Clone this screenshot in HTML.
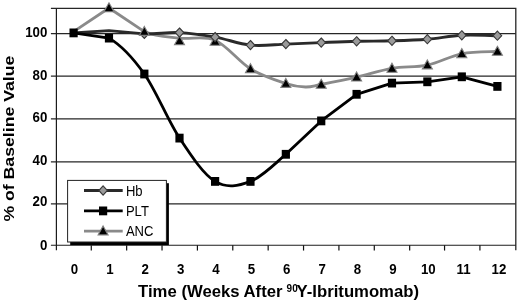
<!DOCTYPE html>
<html><head><meta charset="utf-8"><title>Chart</title>
<style>
html,body{margin:0;padding:0;background:#fff;}
svg{display:block;}
text{font-family:"Liberation Sans",Arial,sans-serif;fill:#000;}
.tk{font-size:14px;font-weight:bold;}
.ti{font-size:16.7px;font-weight:bold;}
.yt{font-size:14.5px;font-weight:bold;}
.sup{font-size:10px;font-weight:bold;}
.lg{font-size:14.5px;}
</style></head><body>
<svg width="520" height="303" viewBox="0 0 520 303">
<rect width="520" height="303" fill="#fff"/>
<line x1="50.9" y1="33.70" x2="515.8" y2="33.70" stroke="#262626" stroke-width="1.25"/>
<line x1="50.9" y1="76.20" x2="515.8" y2="76.20" stroke="#262626" stroke-width="1.25"/>
<line x1="50.9" y1="118.80" x2="515.8" y2="118.80" stroke="#262626" stroke-width="1.25"/>
<line x1="50.9" y1="161.90" x2="515.8" y2="161.90" stroke="#262626" stroke-width="1.25"/>
<line x1="50.9" y1="203.85" x2="515.8" y2="203.85" stroke="#262626" stroke-width="1.25"/>
<path d="M50.9 8.40 H515.8 V250.25" fill="none" stroke="#262626" stroke-width="1.3"/>
<line x1="56.4" y1="8.40" x2="56.4" y2="250.25" stroke="#1c1c1c" stroke-width="1.2"/>
<line x1="50.9" y1="245.25" x2="515.8" y2="245.25" stroke="#1c1c1c" stroke-width="1.15"/>
<line x1="91.28" y1="245.25" x2="91.28" y2="250.55" stroke="#111" stroke-width="1.2"/>
<line x1="126.65" y1="245.25" x2="126.65" y2="250.55" stroke="#111" stroke-width="1.2"/>
<line x1="162.03" y1="245.25" x2="162.03" y2="250.55" stroke="#111" stroke-width="1.2"/>
<line x1="197.41" y1="245.25" x2="197.41" y2="250.55" stroke="#111" stroke-width="1.2"/>
<line x1="232.78" y1="245.25" x2="232.78" y2="250.55" stroke="#111" stroke-width="1.2"/>
<line x1="268.16" y1="245.25" x2="268.16" y2="250.55" stroke="#111" stroke-width="1.2"/>
<line x1="303.54" y1="245.25" x2="303.54" y2="250.55" stroke="#111" stroke-width="1.2"/>
<line x1="338.92" y1="245.25" x2="338.92" y2="250.55" stroke="#111" stroke-width="1.2"/>
<line x1="374.29" y1="245.25" x2="374.29" y2="250.55" stroke="#111" stroke-width="1.2"/>
<line x1="409.67" y1="245.25" x2="409.67" y2="250.55" stroke="#111" stroke-width="1.2"/>
<line x1="444.55" y1="245.25" x2="444.55" y2="250.55" stroke="#111" stroke-width="1.2"/>
<line x1="479.92" y1="245.25" x2="479.92" y2="250.55" stroke="#111" stroke-width="1.2"/>
<path d="M73.59 31.60 L108.97 8.00 L144.34 31.60 C156.10 36.63 167.71 36.75 179.50 38.20 C191.29 39.65 203.27 35.18 215.10 40.30 C226.93 45.42 238.68 61.68 250.47 68.90 C262.27 76.12 276.67 80.58 285.85 83.60 C295.03 86.62 299.64 86.85 305.54 87.00 C311.43 87.15 312.72 86.13 321.23 84.50 C329.74 82.87 344.81 79.88 356.60 77.20 C368.40 74.52 380.19 70.42 391.98 68.40 C403.77 66.38 415.72 67.53 427.36 65.10 C438.99 62.67 450.13 56.07 461.80 53.80 C473.47 51.53 491.47 51.88 497.40 51.50" fill="none" stroke="#8a8a8a" stroke-width="2.8" stroke-linejoin="round"/>
<path d="M108.97 2.80 l5 9 h-10 z" fill="#000" stroke="#808080" stroke-width="1.1"/>
<path d="M179.50 35.80 l5 9 h-10 z" fill="#000" stroke="#808080" stroke-width="1.1"/>
<path d="M215.10 36.20 l5 9 h-10 z" fill="#000" stroke="#808080" stroke-width="1.1"/>
<path d="M250.47 63.70 l5 9 h-10 z" fill="#000" stroke="#808080" stroke-width="1.1"/>
<path d="M285.85 78.40 l5 9 h-10 z" fill="#000" stroke="#808080" stroke-width="1.1"/>
<path d="M321.23 79.30 l5 9 h-10 z" fill="#000" stroke="#808080" stroke-width="1.1"/>
<path d="M356.60 72.00 l5 9 h-10 z" fill="#000" stroke="#808080" stroke-width="1.1"/>
<path d="M391.98 63.20 l5 9 h-10 z" fill="#000" stroke="#808080" stroke-width="1.1"/>
<path d="M427.36 59.90 l5 9 h-10 z" fill="#000" stroke="#808080" stroke-width="1.1"/>
<path d="M461.80 48.60 l5 9 h-10 z" fill="#000" stroke="#808080" stroke-width="1.1"/>
<path d="M497.40 46.30 l5 9 h-10 z" fill="#000" stroke="#808080" stroke-width="1.1"/>
<path d="M73.59 33.00 L108.97 30.60 L144.34 33.90 C156.10 34.23 167.71 32.07 179.50 32.60 C191.29 33.13 203.27 35.02 215.10 37.10 C226.93 39.18 238.68 43.93 250.47 45.10 C262.27 46.27 274.06 44.52 285.85 44.10 C297.64 43.68 309.43 43.07 321.23 42.60 C333.02 42.13 344.81 41.60 356.60 41.30 C368.40 41.00 380.19 41.15 391.98 40.80 C403.77 40.45 415.72 40.12 427.36 39.20 C438.99 38.28 450.13 35.88 461.80 35.30 C473.47 34.72 491.47 35.63 497.40 35.70" fill="none" stroke="#2a2a2a" stroke-width="2.9" stroke-linejoin="round"/>
<path d="M144.34 29.30 l4.3 4.6 l-4.3 4.6 l-4.3 -4.6 z" fill="#9a9a9a" stroke="#383838" stroke-width="1.1"/>
<path d="M179.50 28.00 l4.3 4.6 l-4.3 4.6 l-4.3 -4.6 z" fill="#9a9a9a" stroke="#383838" stroke-width="1.1"/>
<path d="M215.10 32.50 l4.3 4.6 l-4.3 4.6 l-4.3 -4.6 z" fill="#9a9a9a" stroke="#383838" stroke-width="1.1"/>
<path d="M250.47 40.50 l4.3 4.6 l-4.3 4.6 l-4.3 -4.6 z" fill="#9a9a9a" stroke="#383838" stroke-width="1.1"/>
<path d="M285.85 39.50 l4.3 4.6 l-4.3 4.6 l-4.3 -4.6 z" fill="#9a9a9a" stroke="#383838" stroke-width="1.1"/>
<path d="M321.23 38.00 l4.3 4.6 l-4.3 4.6 l-4.3 -4.6 z" fill="#9a9a9a" stroke="#383838" stroke-width="1.1"/>
<path d="M356.60 36.70 l4.3 4.6 l-4.3 4.6 l-4.3 -4.6 z" fill="#9a9a9a" stroke="#383838" stroke-width="1.1"/>
<path d="M391.98 36.20 l4.3 4.6 l-4.3 4.6 l-4.3 -4.6 z" fill="#9a9a9a" stroke="#383838" stroke-width="1.1"/>
<path d="M427.36 34.60 l4.3 4.6 l-4.3 4.6 l-4.3 -4.6 z" fill="#9a9a9a" stroke="#383838" stroke-width="1.1"/>
<path d="M461.80 30.70 l4.3 4.6 l-4.3 4.6 l-4.3 -4.6 z" fill="#9a9a9a" stroke="#383838" stroke-width="1.1"/>
<path d="M497.40 31.10 l4.3 4.6 l-4.3 4.6 l-4.3 -4.6 z" fill="#9a9a9a" stroke="#383838" stroke-width="1.1"/>
<path d="M144.34 26.40 l5 9 h-10 z" fill="#000" stroke="#808080" stroke-width="1.1"/>
<path d="M73.59 32.90 L108.97 38.10 C120.76 44.95 132.59 57.33 144.34 74.00 C156.10 90.67 167.71 120.20 179.50 138.10 C191.29 156.00 203.27 174.18 215.10 181.40 C226.93 188.62 238.68 185.92 250.47 181.40 C262.27 176.88 274.06 164.38 285.85 154.30 L321.23 120.90 L356.60 94.30 L391.98 83.10 L427.36 81.80 L461.80 76.80 L497.40 86.40" fill="none" stroke="#000" stroke-width="2.8" stroke-linejoin="round"/>
<rect x="69.49" y="28.50" width="8.2" height="8.8" fill="#000"/>
<rect x="104.87" y="33.70" width="8.2" height="8.8" fill="#000"/>
<rect x="140.24" y="69.60" width="8.2" height="8.8" fill="#000"/>
<rect x="175.40" y="133.70" width="8.2" height="8.8" fill="#000"/>
<rect x="211.00" y="177.00" width="8.2" height="8.8" fill="#000"/>
<rect x="246.37" y="177.00" width="8.2" height="8.8" fill="#000"/>
<rect x="281.75" y="149.90" width="8.2" height="8.8" fill="#000"/>
<rect x="317.13" y="116.50" width="8.2" height="8.8" fill="#000"/>
<rect x="352.50" y="89.90" width="8.2" height="8.8" fill="#000"/>
<rect x="387.88" y="78.70" width="8.2" height="8.8" fill="#000"/>
<rect x="423.26" y="77.40" width="8.2" height="8.8" fill="#000"/>
<rect x="457.70" y="72.40" width="8.2" height="8.8" fill="#000"/>
<rect x="493.30" y="82.00" width="8.2" height="8.8" fill="#000"/>
<rect x="70.2" y="183.2" width="98.7" height="61.8" fill="#000"/>
<rect x="67.6" y="180.4" width="98.8" height="61.6" fill="#fff" stroke="#222" stroke-width="1"/>
<line x1="84" x2="122.7" y1="190.5" y2="190.5" stroke="#2a2a2a" stroke-width="2.9"/>
<path d="M103.10 185.90 l4.3 4.6 l-4.3 4.6 l-4.3 -4.6 z" fill="#9a9a9a" stroke="#383838" stroke-width="1.1"/>
<line x1="84" x2="122.7" y1="210.9" y2="210.9" stroke="#000" stroke-width="2.9"/>
<rect x="99.00" y="206.50" width="8.2" height="8.8" fill="#000"/>
<line x1="84" x2="122.7" y1="231.1" y2="231.1" stroke="#8a8a8a" stroke-width="2.8"/>
<path d="M103.10 225.90 l5 9 h-10 z" fill="#000" stroke="#808080" stroke-width="1.1"/>
<text transform="translate(125.9,196.4) scale(0.9,1)" class="lg">Hb</text>
<text transform="translate(125.9,216.0) scale(0.9,1)" class="lg">PLT</text>
<text transform="translate(125.9,235.6) scale(0.9,1)" class="lg">ANC</text>
<text transform="translate(47.4,37.1) scale(0.95,1)" text-anchor="end" class="tk">100</text>
<text transform="translate(47.4,80.0) scale(0.95,1)" text-anchor="end" class="tk">80</text>
<text transform="translate(47.4,121.6) scale(0.95,1)" text-anchor="end" class="tk">60</text>
<text transform="translate(47.4,165.1) scale(0.95,1)" text-anchor="end" class="tk">40</text>
<text transform="translate(47.4,206.2) scale(0.95,1)" text-anchor="end" class="tk">20</text>
<text transform="translate(47.4,249.6) scale(0.95,1)" text-anchor="end" class="tk">0</text>
<text transform="translate(74.5,274.2) scale(0.95,1)" text-anchor="middle" class="tk">0</text>
<text transform="translate(109.9,274.2) scale(0.95,1)" text-anchor="middle" class="tk">1</text>
<text transform="translate(145.2,274.2) scale(0.95,1)" text-anchor="middle" class="tk">2</text>
<text transform="translate(180.6,274.2) scale(0.95,1)" text-anchor="middle" class="tk">3</text>
<text transform="translate(216.0,274.2) scale(0.95,1)" text-anchor="middle" class="tk">4</text>
<text transform="translate(251.4,274.2) scale(0.95,1)" text-anchor="middle" class="tk">5</text>
<text transform="translate(286.7,274.2) scale(0.95,1)" text-anchor="middle" class="tk">6</text>
<text transform="translate(322.1,274.2) scale(0.95,1)" text-anchor="middle" class="tk">7</text>
<text transform="translate(357.5,274.2) scale(0.95,1)" text-anchor="middle" class="tk">8</text>
<text transform="translate(392.9,274.2) scale(0.95,1)" text-anchor="middle" class="tk">9</text>
<text transform="translate(428.3,274.2) scale(0.95,1)" text-anchor="middle" class="tk">10</text>
<text transform="translate(463.6,274.2) scale(0.95,1)" text-anchor="middle" class="tk">11</text>
<text transform="translate(499.0,274.2) scale(0.95,1)" text-anchor="middle" class="tk">12</text>
<text x="138.1" y="297.2" class="ti">Time (Weeks After</text>
<text x="286.6" y="292.1" class="sup">90</text>
<text x="296.6" y="297.2" class="ti">Y-Ibritumomab)</text>
<text transform="translate(14.2,221.6) rotate(-90) scale(1.22,1)" class="yt">% of Baseline Value</text>
</svg>
</body></html>
